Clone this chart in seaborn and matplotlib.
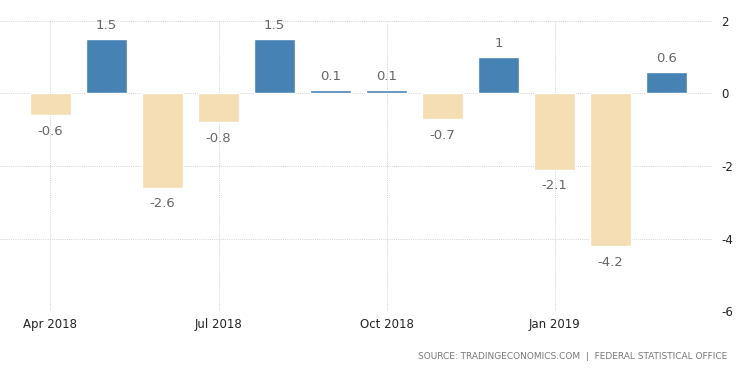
import matplotlib
matplotlib.use("Agg")
import matplotlib.pyplot as plt
import seaborn as sns
import pandas as pd

months = ["Apr 2018", "May 2018", "Jun 2018", "Jul 2018", "Aug 2018", "Sep 2018",
          "Oct 2018", "Nov 2018", "Dec 2018", "Jan 2019", "Feb 2019", "Mar 2019"]
values = [-0.6, 1.5, -2.6, -0.8, 1.5, 0.1, 0.1, -0.7, 1.0, -2.1, -4.2, 0.6]
value_labels = ["-0.6", "1.5", "-2.6", "-0.8", "1.5", "0.1", "0.1", "-0.7", "1", "-2.1", "-4.2", "0.6"]
tick_labels = ["Apr 2018", "Jul 2018", "Oct 2018", "Jan 2019"]
y_ticks = [2, 0, -2, -4, -6]
source_text = "SOURCE: TRADINGECONOMICS.COM  |  FEDERAL STATISTICAL OFFICE"

sns.set_style("white")
plt.rcParams['font.family'] = ['DejaVu Sans']

df = pd.DataFrame({"month": months, "value": values,
                   "sign": ["pos" if v >= 0 else "neg" for v in values]})

fig = plt.figure(figsize=(7.5, 3.73), dpi=100)
ax = fig.add_axes([0.0, 0.166, 0.951, 0.778])

sns.barplot(data=df, x="month", y="value", hue="sign",
            palette={"pos": "#4682B4", "neg": "#F5DEB3"},
            dodge=False, width=0.73, legend=False, ax=ax, saturation=1)

for i, (v, lab) in enumerate(zip(values, value_labels)):
    if v >= 0:
        ax.annotate(lab, (i, v), xytext=(0, 5), textcoords="offset points",
                    ha="center", va="bottom", color="#666666", fontsize=9.5)
    else:
        ax.annotate(lab, (i, v), xytext=(0, -7), textcoords="offset points",
                    ha="center", va="top", color="#666666", fontsize=9.5)

ax.set_xlim(-0.9, 11.83)
ax.set_ylim(-6, 2)
tick_pos = [months.index(t) for t in tick_labels]
ax.set_xticks(tick_pos)
ax.set_xticklabels(tick_labels, fontsize=8.5, color="#222222")
ax.set_yticks(y_ticks)
ax.set_yticklabels([str(t) for t in y_ticks], fontsize=8.5, color="#222222")
ax.yaxis.tick_right()
ax.tick_params(axis="y", length=0, pad=6)
ax.tick_params(axis="x", length=0, pad=5)
ax.set_xlabel("")
ax.set_ylabel("")
ax.grid(True, linestyle=(0, (1, 1.2)), color="#d2d2d2", linewidth=0.7)
ax.set_axisbelow(True)
for s in ax.spines.values():
    s.set_visible(False)

fig.text(0.969, 0.045, source_text, ha="right", va="center", fontsize=6.5, color="#777777")

fig.savefig("out.png", dpi=100)
